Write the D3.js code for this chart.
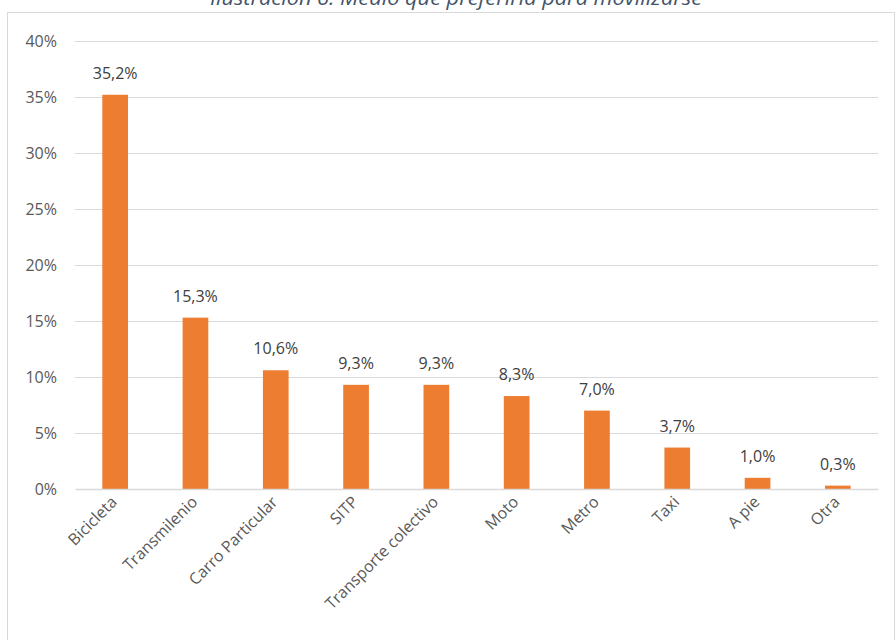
<!DOCTYPE html>
<html><head><meta charset="utf-8">
<script src="https://cdn.jsdelivr.net/npm/d3@7"></script>
<style>
html,body{margin:0;padding:0;background:#fff;}
svg{display:block;font-family:"Open Sans",sans-serif;}
</style></head>
<body>
<svg id="chart" width="896" height="640"></svg>
<script>
const categories = ["Bicicleta","Transmilenio","Carro Particular","SITP","Transporte colectivo","Moto","Metro","Taxi","A pie","Otra"];
const values = [35.2,15.3,10.6,9.3,9.3,8.3,7.0,3.7,1.0,0.3];
const yTicks = [0,5,10,15,20,25,30,35,40];
const title = "Ilustración 6: Medio que preferiría para movilizarse";

const svg = d3.select("#chart");
const plot = {left:75, right:878, top:41, bottom:489};
const FS = 16;

// chart frame
svg.append("rect").attr("x",7.5).attr("y",12.5).attr("width",887).attr("height",700)
  .attr("fill","#fff").attr("stroke","#d9d9d9").attr("stroke-width",1);

// title (clipped at the top edge, as in the reference)
svg.append("text").attr("x",456).attr("y",5).attr("text-anchor","middle")
  .attr("font-style","italic").attr("font-size",20).attr("fill","#44546a")
  .attr("textLength",492).attr("lengthAdjust","spacingAndGlyphs").text(title);

const x = d3.scaleBand().domain(categories).range([plot.left, plot.right]).paddingInner(0.68).paddingOuter(0.34);
const y = d3.scaleLinear().domain([0,40]).range([plot.bottom, plot.top]);

// gridlines
svg.append("g").selectAll("line").data(yTicks.filter(d=>d>0)).join("line")
  .attr("x1",plot.left).attr("x2",plot.right)
  .attr("y1",d=>Math.round(y(d))+0.5).attr("y2",d=>Math.round(y(d))+0.5)
  .attr("stroke","#d9d9d9").attr("stroke-width",1);

// y axis labels
const yAxis = d3.axisLeft(y).tickValues(yTicks).tickSize(0).tickPadding(18).tickFormat(d=>d+"%");
const gy = svg.append("g").attr("transform",`translate(${plot.left},0)`).call(yAxis);
gy.select(".domain").remove();
gy.selectAll("text").attr("font-size",FS).attr("fill","#595959").attr("font-family","Open Sans");

// bars
svg.append("g").selectAll("rect").data(values).join("rect")
  .attr("x",(d,i)=>x(categories[i])).attr("width",x.bandwidth())
  .attr("y",d=>y(d)).attr("height",d=>y(0)-y(d))
  .attr("fill","#ed7d31");

// value labels
svg.append("g").selectAll("text").data(values).join("text")
  .attr("x",(d,i)=>x(categories[i])+x.bandwidth()/2)
  .attr("y",d=>y(d)-16).attr("text-anchor","middle")
  .attr("font-size",FS).attr("fill","#404040")
  .text(d=>d.toFixed(1).replace(".",",")+"%");

// baseline axis with rotated category labels
const xAxis = d3.axisBottom(x).tickSize(0).tickPadding(0);
const gx = svg.append("g").attr("transform",`translate(0,${plot.bottom})`).call(xAxis);
gx.select(".domain").attr("stroke","#d9d9d9").attr("stroke-width",1.5);
gx.selectAll("text")
  .attr("font-size",FS).attr("fill","#595959").attr("font-family","Open Sans")
  .attr("text-anchor","end").attr("dy",0)
  .attr("transform","translate(3,14) rotate(-45)");
</script>
</body></html>
